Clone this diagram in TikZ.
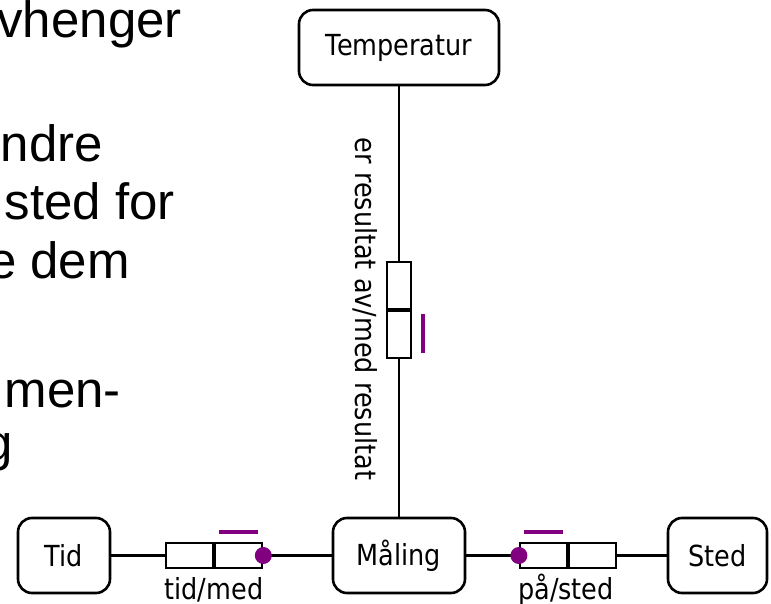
\documentclass[tikz,border=0pt]{standalone}
\usepackage{fontspec}
\setmainfont{Liberation Sans}
\newfontfamily\dia[FakeStretch=0.88]{DejaVu Sans}
\usetikzlibrary{calc}
\definecolor{ormpurple}{RGB}{128,0,128}
\tikzset{
  objbox/.style={draw, line width=2.6pt, rounded corners=14pt, inner sep=0pt,
    minimum height=75pt, font=\dia\fontsize{29}{30}\selectfont},
  rolecell/.style={draw, line width=2.2pt, inner sep=0pt, minimum width=47pt, minimum height=25pt},
  vrolecell/.style={draw, line width=2.2pt, inner sep=0pt, minimum width=24pt, minimum height=47pt},
  conn/.style={line width=2.2pt},
  dot/.style={circle, fill=ormpurple, inner sep=0pt, minimum size=17pt},
  uniq/.style={draw=ormpurple, line width=3.5pt},
  rolelabel/.style={inner sep=0pt, font=\dia\fontsize{29}{30}\selectfont},
  slidetext/.style={inner sep=0pt, anchor=base east, font=\fontsize{51}{51}\selectfont},
}
\begin{document}
\begin{tikzpicture}[x=1pt, y=-1pt]
\useasboundingbox (0,0) rectangle (771,604);
\clip (0,0) rectangle (771,604);
\fill[white] (0,0) rectangle (771,604);

% cut-off slide text
\node[slidetext] (l1) at (182,38) {vhenger};
\node[slidetext] (l2) at (103,162) {ndre};
\node[slidetext] (l3) at (175,220) {sted for};
\node[slidetext] (l4) at (130,278) {e dem};
\node[slidetext] (l5) at (121,407) {men-};
\node[slidetext] (l6) at (13,460) {g};

% object types
\node[objbox, minimum width=200pt] (temp) at (399,47.5) {Temperatur};
\node[objbox, minimum width=132pt] (maal) at (399,555.5) {Måling};
\node[objbox, minimum width=92pt]  (tid)  at (64,555.5) {Tid};
\node[objbox, minimum width=99pt]  (sted) at (717.5,555.5) {Sted};

% role boxes
\node[rolecell] (tA) at (189.5,555.5) {};
\node[rolecell, anchor=west] (tB) at (tA.east) {};
\node[rolecell] (sA) at (543.5,555.5) {};
\node[rolecell, anchor=west] (sB) at (sA.east) {};
\node[vrolecell] (rA) at (399,285.5) {};
\node[vrolecell, anchor=north] (rB) at (rA.south) {};

% connectors
\draw[conn] (tid.east) -- (tA.west);
\draw[conn] (tB.east) -- (maal.west);
\draw[conn] (maal.east) -- (sA.west);
\draw[conn] (sB.east) -- (sted.west);
\draw[conn] (temp.south) -- (rA.north);
\draw[conn] (rB.south) -- (maal.north);

% mandatory dots
\node[dot] (d1) at (tB.east) {};
\node[dot] (d2) at (sA.west) {};

% uniqueness bars
\draw[uniq] ([xshift=5pt,yshift=10pt]tB.north west) -- ([xshift=-5pt,yshift=10pt]tB.north east);
\draw[uniq] ([xshift=5pt,yshift=10pt]sA.north west) -- ([xshift=-5pt,yshift=10pt]sA.north east);
\draw[uniq] ([xshift=11pt,yshift=-4pt]rB.north east) -- ([xshift=11pt,yshift=6pt]rB.south east);

% role labels
\node[rolelabel, anchor=base] (lt) at (214,599) {tid/med};
\node[rolelabel, anchor=base] (ls) at (566,599) {på/sted};
\node[rolelabel, rotate=-90] (lr) at (365,309) {er resultat av/med resultat};
\end{tikzpicture}
\end{document}
